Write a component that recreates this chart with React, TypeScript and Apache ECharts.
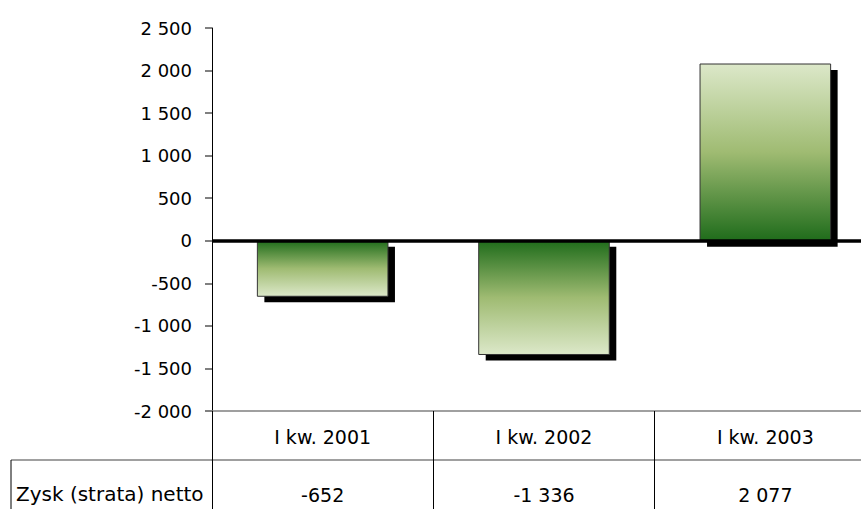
import React, { useEffect, useRef } from "react";
import * as echarts from "echarts";

const categories = ["I kw. 2001", "I kw. 2002", "I kw. 2003"];
const values = [-652, -1336, 2077];
const rowLabel = "Zysk (strata) netto";
const yMin = -2000;
const yMax = 2500;
const yStep = 500;

const fmt = (v: number) => {
  const s = Math.abs(Math.round(v)).toString().replace(/\B(?=(\d{3})+(?!\d))/g, " ");
  return (v < 0 ? "-" : "") + s;
};

const FONT = "DejaVu Sans";
const DARK = "#1f6c1b";
const MID = "#9fbb72";
const LIGHT = "#dce8c9";

export default function App() {
  const ref = useRef<HTMLDivElement>(null);
  useEffect(() => {
    document.body.style.margin = "0";
    document.body.style.overflow = "hidden";
    const chart = echarts.init(ref.current!, undefined, { renderer: "svg" });
    chart.setOption({
      animation: false,
      backgroundColor: "#ffffff",
      textStyle: { fontFamily: FONT },
      grid: { left: 212, right: 0, top: 28, bottom: 98, containLabel: false },
      xAxis: [
        {
          type: "category",
          data: categories,
          position: "bottom",
          axisLine: { show: true, onZero: false, lineStyle: { color: "#808080", width: 1.5 } },
          axisTick: { show: true, length: 49, alignWithLabel: false, lineStyle: { color: "#000", width: 1 } },
          axisLabel: { margin: 16, fontSize: 19, color: "#000", fontFamily: FONT },
          splitLine: { show: false },
        },
        {
          type: "category",
          data: values.map(fmt),
          position: "bottom",
          offset: 49,
          axisLine: { show: true, onZero: false, lineStyle: { color: "#808080", width: 1.5 } },
          axisTick: { show: true, length: 49, alignWithLabel: false, lineStyle: { color: "#000", width: 1 } },
          axisLabel: { margin: 25, fontSize: 19, color: "#000", fontFamily: FONT },
          splitLine: { show: false },
        },
      ],
      yAxis: {
        type: "value",
        min: yMin,
        max: yMax,
        interval: yStep,
        axisLine: { show: true, lineStyle: { color: "#000", width: 1 } },
        axisTick: { show: true, length: 7, lineStyle: { color: "#808080", width: 2 } },
        axisLabel: { margin: 20, fontSize: 18, color: "#000", fontFamily: FONT, formatter: (v: number) => fmt(v) },
        splitLine: { show: false },
      },
      graphic: [
        { type: "line", shape: { x1: 11, y1: 460, x2: 212, y2: 460 }, style: { stroke: "#808080", lineWidth: 1.5 } },
        { type: "line", shape: { x1: 11, y1: 460, x2: 11, y2: 509 }, style: { stroke: "#000", lineWidth: 1 } },
        {
          type: "text",
          x: 16,
          y: 494,
          style: { text: rowLabel, fill: "#000", font: `20px "${FONT}"`, verticalAlign: "middle", align: "left" },
        },
      ],
      series: [
        {
          type: "custom",
          xAxisIndex: 0,
          yAxisIndex: 0,
          data: values.map((v, i) => [i, v]),
          encode: { x: 0, y: 1 },
          renderItem: (params: any, api: any) => {
            const idx = api.value(0);
            const v = api.value(1);
            const base = api.coord([idx, 0]);
            const top = api.coord([idx, v]);
            const w = api.size([1, 0])[0] * 0.59;
            const x = base[0] - w / 2;
            const y = Math.min(base[1], top[1]);
            const h = Math.abs(top[1] - base[1]);
            const pos = v >= 0;
            const grad = new echarts.graphic.LinearGradient(0, pos ? 0 : 1, 0, pos ? 1 : 0, [
              { offset: 0, color: LIGHT },
              { offset: 0.5, color: MID },
              { offset: 1, color: DARK },
            ]);
            return {
              type: "group",
              children: [
                { type: "rect", shape: { x: x + 7, y: y + 6, width: w, height: h }, style: { fill: "#000" } },
                {
                  type: "rect",
                  shape: { x, y, width: w, height: h },
                  style: { fill: grad, stroke: "#333", lineWidth: 1 },
                },
              ],
            };
          },
          markLine: {
            silent: true,
            symbol: ["none", "none"],
            label: { show: false },
            lineStyle: { color: "#000", width: 3.5, type: "solid" },
            data: [{ yAxis: 0 }],
          },
        },
      ],
    });
    return () => chart.dispose();
  }, []);
  return (
    <div style={{ width: 861, height: 509, overflow: "hidden" }}>
      <div ref={ref} style={{ width: 876, height: 509 }} />
    </div>
  );
}
